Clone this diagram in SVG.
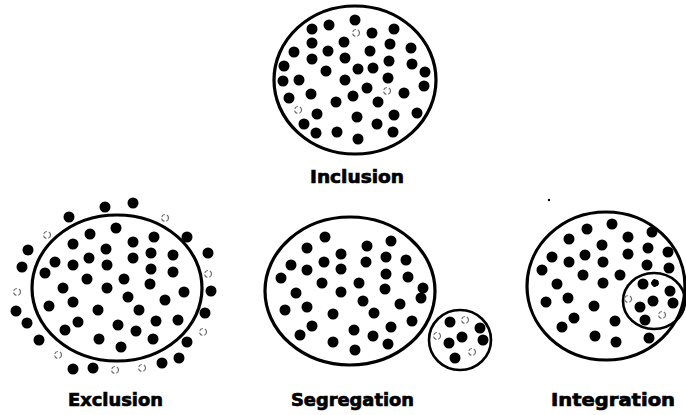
<svg xmlns="http://www.w3.org/2000/svg" width="686" height="415" viewBox="0 0 686 415">
<style>
.ring{fill:none;stroke:#000;stroke-width:3.2}
.sring{fill:none;stroke:#000;stroke-width:2.6}
.d{fill:#000}
.h{fill:none;stroke:#6a6a6a;stroke-width:1.2;stroke-dasharray:4 2}
.lbl{font-family:"DejaVu Sans","Liberation Sans",sans-serif;font-weight:bold;font-size:18px;fill:#000;stroke:#000;stroke-width:0.7}
</style>
<rect width="686" height="415" fill="#fff"/>
<g id="inclusion">
<ellipse class="ring" cx="355" cy="80" rx="81" ry="74"/>
<g class="d">
<circle cx="355" cy="20" r="5.5"/><circle cx="329" cy="25" r="5.5"/><circle cx="312" cy="29" r="5.5"/><circle cx="394" cy="29" r="5.5"/><circle cx="372" cy="33" r="5.5"/>
<circle cx="312" cy="43" r="5.5"/><circle cx="344" cy="42" r="5.5"/><circle cx="390" cy="44" r="5.5"/><circle cx="411" cy="48" r="5.5"/><circle cx="294" cy="52" r="5.5"/>
<circle cx="328" cy="51" r="5.5"/><circle cx="370" cy="51" r="5.5"/><circle cx="312" cy="59" r="5.5"/><circle cx="345" cy="58" r="5.5"/><circle cx="389" cy="61" r="5.5"/>
<circle cx="284" cy="66" r="5.5"/><circle cx="412" cy="64" r="5.5"/><circle cx="326" cy="71" r="5.5"/><circle cx="358" cy="69" r="5.5"/><circle cx="373" cy="68" r="5.5"/>
<circle cx="425" cy="72" r="5.5"/><circle cx="283" cy="81" r="5.5"/><circle cx="299" cy="80" r="5.5"/><circle cx="345" cy="80" r="5.5"/><circle cx="388" cy="78" r="5.5"/>
<circle cx="424" cy="86" r="5.5"/><circle cx="367" cy="88" r="5.5"/><circle cx="404" cy="93" r="5.5"/><circle cx="311" cy="94" r="5.5"/><circle cx="289" cy="98" r="5.5"/>
<circle cx="353" cy="96" r="5.5"/><circle cx="378" cy="102" r="5.5"/><circle cx="336" cy="102" r="5.5"/><circle cx="317" cy="114" r="5.5"/><circle cx="357" cy="117" r="5.5"/>
<circle cx="394" cy="115" r="5.5"/><circle cx="417" cy="113" r="5.5"/><circle cx="304" cy="124" r="5.5"/><circle cx="377" cy="124" r="5.5"/><circle cx="316" cy="133" r="5.5"/>
<circle cx="337" cy="132" r="5.5"/><circle cx="393" cy="132" r="5.5"/><circle cx="358" cy="139" r="5.5"/>
</g>
<g class="h">
<circle cx="356" cy="33" r="3.5"/><circle cx="387" cy="91" r="3.5"/><circle cx="298" cy="110" r="3.5"/>
</g>
<text class="lbl" x="310" y="183" textLength="94" lengthAdjust="spacingAndGlyphs">Inclusion</text>
</g>
<g id="exclusion">
<ellipse class="ring" cx="117" cy="288" rx="85" ry="73"/>
<g class="d">
<circle cx="105" cy="207" r="5.5"/><circle cx="133" cy="203" r="5.5"/><circle cx="69" cy="217" r="5.5"/><circle cx="187" cy="237" r="5.5"/><circle cx="28" cy="250" r="5.5"/>
<circle cx="208" cy="253" r="5.5"/><circle cx="22" cy="267" r="5.5"/><circle cx="211" cy="291" r="5.5"/><circle cx="16" cy="311" r="5.5"/><circle cx="205" cy="313" r="5.5"/>
<circle cx="27" cy="323" r="5.5"/><circle cx="39" cy="340" r="5.5"/><circle cx="187" cy="342" r="5.5"/><circle cx="179" cy="358" r="5.5"/><circle cx="162" cy="363" r="5.5"/>
<circle cx="73" cy="369" r="5.5"/><circle cx="93" cy="368" r="5.5"/>
<circle cx="116" cy="228" r="5.5"/><circle cx="90" cy="234" r="5.5"/><circle cx="154" cy="237" r="5.5"/><circle cx="73" cy="244" r="5.5"/><circle cx="133" cy="242" r="5.5"/>
<circle cx="106" cy="249" r="5.5"/><circle cx="151" cy="253" r="5.5"/><circle cx="173" cy="255" r="5.5"/><circle cx="89" cy="258" r="5.5"/><circle cx="133" cy="258" r="5.5"/>
<circle cx="55" cy="262" r="5.5"/><circle cx="73" cy="265" r="5.5"/><circle cx="107" cy="265" r="5.5"/><circle cx="151" cy="269" r="5.5"/><circle cx="173" cy="272" r="5.5"/>
<circle cx="45" cy="273" r="5.5"/><circle cx="87" cy="279" r="5.5"/><circle cx="124" cy="279" r="5.5"/><circle cx="150" cy="284" r="5.5"/><circle cx="63" cy="288" r="5.5"/>
<circle cx="107" cy="288" r="5.5"/><circle cx="184" cy="292" r="5.5"/><circle cx="128" cy="297" r="5.5"/><circle cx="165" cy="300" r="5.5"/><circle cx="73" cy="302" r="5.5"/>
<circle cx="49" cy="306" r="5.5"/><circle cx="98" cy="310" r="5.5"/><circle cx="139" cy="310" r="5.5"/><circle cx="156" cy="321" r="5.5"/><circle cx="178" cy="320" r="5.5"/>
<circle cx="78" cy="322" r="5.5"/><circle cx="118" cy="325" r="5.5"/><circle cx="136" cy="331" r="5.5"/><circle cx="65" cy="330" r="5.5"/><circle cx="99" cy="339" r="5.5"/>
<circle cx="153" cy="339" r="5.5"/><circle cx="121" cy="347" r="5.5"/>
</g>
<g class="h">
<circle cx="165" cy="218" r="3.5"/><circle cx="47" cy="235" r="3.5"/><circle cx="208" cy="274" r="3.5"/><circle cx="17" cy="292" r="3.5"/>
<circle cx="203" cy="332" r="3.5"/><circle cx="58" cy="355" r="3.5"/><circle cx="142" cy="368" r="3.5"/><circle cx="115" cy="370" r="3.5"/>
</g>
<text class="lbl" x="68" y="406" textLength="95" lengthAdjust="spacingAndGlyphs">Exclusion</text>
</g>
<g id="segregation">
<ellipse class="ring" cx="350" cy="291" rx="85" ry="74"/>
<ellipse class="sring" cx="460" cy="340" rx="31" ry="30"/>
<g class="d">
<circle cx="325" cy="237" r="5.5"/><circle cx="391" cy="241" r="5.5"/><circle cx="307" cy="248" r="5.5"/><circle cx="367" cy="246" r="5.5"/><circle cx="341" cy="254" r="5.5"/>
<circle cx="386" cy="257" r="5.5"/><circle cx="291" cy="265" r="5.5"/><circle cx="324" cy="262" r="5.5"/><circle cx="366" cy="262" r="5.5"/><circle cx="406" cy="260" r="5.5"/>
<circle cx="307" cy="270" r="5.5"/><circle cx="341" cy="269" r="5.5"/><circle cx="281" cy="278" r="5.5"/><circle cx="386" cy="274" r="5.5"/><circle cx="408" cy="277" r="5.5"/>
<circle cx="322" cy="283" r="5.5"/><circle cx="359" cy="283" r="5.5"/><circle cx="423" cy="288" r="5.5"/><circle cx="296" cy="293" r="5.5"/><circle cx="341" cy="292" r="5.5"/>
<circle cx="385" cy="289" r="5.5"/><circle cx="421" cy="298" r="5.5"/><circle cx="363" cy="301" r="5.5"/><circle cx="400" cy="304" r="5.5"/><circle cx="307" cy="307" r="5.5"/>
<circle cx="285" cy="310" r="5.5"/><circle cx="333" cy="314" r="5.5"/><circle cx="374" cy="313" r="5.5"/><circle cx="412" cy="321" r="5.5"/><circle cx="312" cy="326" r="5.5"/>
<circle cx="391" cy="327" r="5.5"/><circle cx="354" cy="330" r="5.5"/><circle cx="300" cy="335" r="5.5"/><circle cx="373" cy="336" r="5.5"/><circle cx="333" cy="342" r="5.5"/>
<circle cx="388" cy="344" r="5.5"/><circle cx="355" cy="350" r="5.5"/>
<circle cx="450" cy="322" r="5.5"/><circle cx="480" cy="328" r="5.5"/><circle cx="462" cy="337" r="5.5"/><circle cx="449" cy="343" r="5.5"/><circle cx="483" cy="340" r="5.5"/>
<circle cx="455" cy="358" r="5.5"/>
</g>
<g class="h">
<circle cx="465" cy="320" r="3.5"/><circle cx="437" cy="336" r="3.5"/><circle cx="472" cy="352" r="3.5"/>
</g>
<text class="lbl" x="291" y="406" textLength="123" lengthAdjust="spacingAndGlyphs">Segregation</text>
</g>
<g id="integration">
<ellipse class="ring" cx="606" cy="286" rx="79" ry="74"/>
<ellipse class="sring" cx="654" cy="301" rx="31" ry="28"/>
<circle cx="549" cy="200" r="1.2" fill="#000"/>
<g class="d">
<circle cx="612" cy="224" r="5.5"/><circle cx="587" cy="229" r="5.5"/><circle cx="652" cy="232" r="5.5"/><circle cx="569" cy="239" r="5.5"/><circle cx="628" cy="237" r="5.5"/>
<circle cx="602" cy="245" r="5.5"/><circle cx="648" cy="248" r="5.5"/><circle cx="552" cy="257" r="5.5"/><circle cx="585" cy="255" r="5.5"/><circle cx="628" cy="254" r="5.5"/>
<circle cx="668" cy="252" r="5.5"/><circle cx="569" cy="262" r="5.5"/><circle cx="603" cy="262" r="5.5"/><circle cx="647" cy="265" r="5.5"/><circle cx="669" cy="268" r="5.5"/>
<circle cx="542" cy="270" r="5.5"/><circle cx="583" cy="275" r="5.5"/><circle cx="620" cy="275" r="5.5"/><circle cx="557" cy="284" r="5.5"/><circle cx="603" cy="283" r="5.5"/>
<circle cx="568" cy="298" r="5.5"/><circle cx="546" cy="302" r="5.5"/><circle cx="594" cy="306" r="5.5"/><circle cx="574" cy="318" r="5.5"/><circle cx="615" cy="321" r="5.5"/>
<circle cx="562" cy="327" r="5.5"/><circle cx="595" cy="336" r="5.5"/><circle cx="616" cy="342" r="5.5"/><circle cx="649" cy="338" r="5.5"/>
<circle cx="643" cy="284" r="5.5"/><circle cx="670" cy="291" r="5.5"/><circle cx="653" cy="301" r="5.5"/><circle cx="673" cy="303" r="5.5"/><circle cx="640" cy="307" r="5.5"/>
<circle cx="645" cy="320" r="5.5"/>
</g>
<circle cx="655" cy="283" r="3.5" fill="#000" stroke="#000" stroke-width="1" stroke-dasharray="3 1.5"/>
<g class="h">
<circle cx="628" cy="299" r="3.5"/><circle cx="662" cy="315" r="3.5"/>
</g>
<text class="lbl" x="551" y="406" textLength="124" lengthAdjust="spacingAndGlyphs">Integration</text>
</g>
</svg>
